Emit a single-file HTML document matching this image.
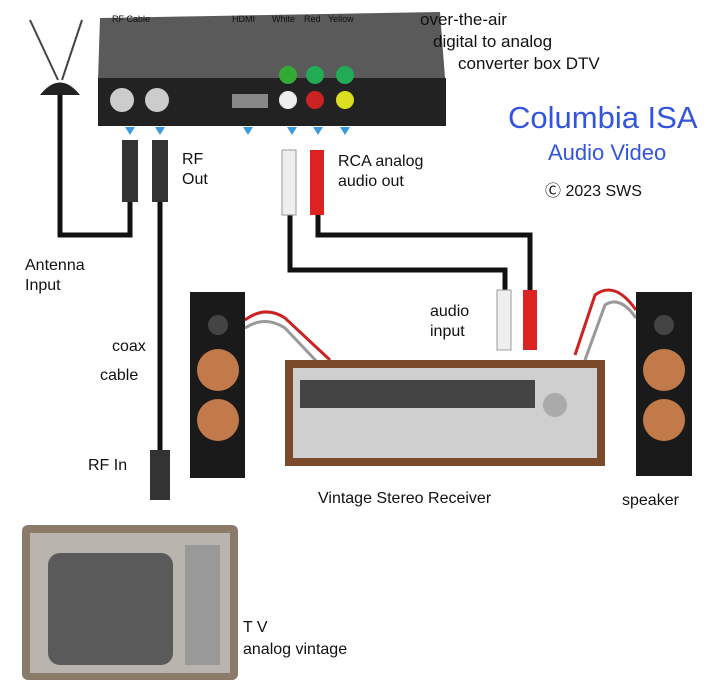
<!DOCTYPE html>
<html><head><meta charset="utf-8"><style>
body{margin:0;width:720px;height:700px;background:#fff;position:relative;overflow:hidden;font-family:"Liberation Sans",sans-serif;color:#111}
.t{position:absolute;white-space:nowrap}
.a{position:absolute}
</style></head><body>
<svg class="a" style="left:0;top:0" width="720" height="700">
<!-- antenna -->
<line x1="58" y1="80" x2="30" y2="20" stroke="#444" stroke-width="2"/>
<line x1="62" y1="80" x2="82" y2="20" stroke="#444" stroke-width="2"/>
<path d="M40 95 Q60 70 80 95 Z" fill="#222"/>
<!-- cables -->
<g fill="none" stroke="#111" stroke-width="5">
<path d="M60 95 V235 H130 V200"/>
<path d="M160 200 V460"/>
<path d="M290 215 V270 H505 V290"/>
<path d="M318 215 V235 H530 V290"/>
</g>
<!-- speaker wires -->
<path d="M245 320 Q265 305 285 318 L330 360" stroke="#c22" stroke-width="3" fill="none"/>
<path d="M245 328 Q265 315 285 328 L320 365" stroke="#999" stroke-width="3" fill="none"/>
<path d="M636 310 Q615 280 595 295 L575 355" stroke="#c22" stroke-width="3" fill="none"/>
<path d="M636 318 Q620 295 605 305 L585 360" stroke="#999" stroke-width="3" fill="none"/>
<!-- converter box -->
<path d="M100 18 L440 12 L445 78 L98 80 Z" fill="#5a5a5a"/>
<rect x="98" y="78" width="348" height="48" fill="#222"/>
<circle cx="122" cy="100" r="12" fill="#ccc"/><circle cx="157" cy="100" r="12" fill="#ccc"/>
<rect x="232" y="94" width="36" height="14" fill="#888"/>
<circle cx="288" cy="75" r="9" fill="#3a3"/><circle cx="315" cy="75" r="9" fill="#2a5"/><circle cx="345" cy="75" r="9" fill="#2a5"/>
<circle cx="288" cy="100" r="9" fill="#eee"/><circle cx="315" cy="100" r="9" fill="#c22"/><circle cx="345" cy="100" r="9" fill="#dd2"/>
<g fill="#3a9be0"><path d="M130 135 l-5 -8 h10z"/><path d="M160 135 l-5 -8 h10z"/><path d="M248 135 l-5 -8 h10z"/><path d="M292 135 l-5 -8 h10z"/><path d="M318 135 l-5 -8 h10z"/><path d="M345 135 l-5 -8 h10z"/></g>
<!-- coax plugs -->
<rect x="122" y="140" width="16" height="62" fill="#333"/><rect x="152" y="140" width="16" height="62" fill="#333"/>
<rect x="150" y="450" width="20" height="50" fill="#333"/>
<!-- rca plugs -->
<rect x="282" y="150" width="14" height="65" fill="#eee" stroke="#999"/>
<rect x="310" y="150" width="14" height="65" fill="#d22"/>
<rect x="497" y="290" width="14" height="60" fill="#eee" stroke="#999"/>
<rect x="523" y="290" width="14" height="60" fill="#d22"/>
<!-- speakers -->
<rect x="190" y="292" width="55" height="186" fill="#1a1a1a"/>
<circle cx="218" cy="325" r="10" fill="#444"/>
<circle cx="218" cy="370" r="21" fill="#c27a4a"/><circle cx="218" cy="420" r="21" fill="#c27a4a"/>
<rect x="636" y="292" width="56" height="184" fill="#1a1a1a"/>
<circle cx="664" cy="325" r="10" fill="#444"/>
<circle cx="664" cy="370" r="21" fill="#c27a4a"/><circle cx="664" cy="420" r="21" fill="#c27a4a"/>
<!-- receiver -->
<rect x="285" y="360" width="320" height="106" fill="#7a4a2a"/>
<rect x="293" y="368" width="304" height="90" fill="#cfcfcf"/>
<rect x="300" y="380" width="235" height="28" fill="#444"/>
<circle cx="555" cy="405" r="12" fill="#aaa"/>
<!-- TV -->
<rect x="22" y="525" width="216" height="155" rx="6" fill="#8a7a6a"/>
<rect x="30" y="533" width="200" height="140" fill="#b9b5ae"/>
<rect x="48" y="553" width="125" height="112" rx="12" fill="#5a5a5a"/>
<rect x="185" y="545" width="35" height="120" fill="#999"/>
</svg>
<div class="t" style="left:112px;top:14px;font-size:9px">RF Cable</div>
<div class="t" style="left:232px;top:14px;font-size:9px">HDMI</div>
<div class="t" style="left:272px;top:14px;font-size:9px">White</div>
<div class="t" style="left:304px;top:14px;font-size:9px">Red</div>
<div class="t" style="left:328px;top:14px;font-size:9px">Yellow</div>
<div class="t" style="left:420px;top:10px;font-size:17px">over-the-air</div>
<div class="t" style="left:433px;top:32px;font-size:17px">digital to analog</div>
<div class="t" style="left:458px;top:54px;font-size:17px">converter box DTV</div>
<div class="t" style="left:508px;top:100px;font-size:31px;color:#3355dd">Columbia ISA</div>
<div class="t" style="left:548px;top:140px;font-size:22px;color:#3355dd">Audio Video</div>
<div class="t" style="left:545px;top:177px;font-size:16px">Ⓒ 2023 SWS</div>
<div class="t" style="left:182px;top:150px;font-size:16px;line-height:20px">RF<br>Out</div>
<div class="t" style="left:338px;top:152px;font-size:16px;line-height:20px">RCA analog<br>audio out</div>
<div class="t" style="left:25px;top:256px;font-size:16px;line-height:20px">Antenna<br>Input</div>
<div class="t" style="left:430px;top:302px;font-size:16px;line-height:20px">audio<br>input</div>
<div class="t" style="left:112px;top:338px;font-size:16px">coax</div>
<div class="t" style="left:100px;top:367px;font-size:16px">cable</div>
<div class="t" style="left:88px;top:457px;font-size:16px">RF In</div>
<div class="t" style="left:318px;top:490px;font-size:16px">Vintage Stereo Receiver</div>
<div class="t" style="left:622px;top:492px;font-size:16px">speaker</div>
<div class="t" style="left:243px;top:617px;font-size:16px;line-height:22px">T V<br>analog vintage</div>
</body></html>
